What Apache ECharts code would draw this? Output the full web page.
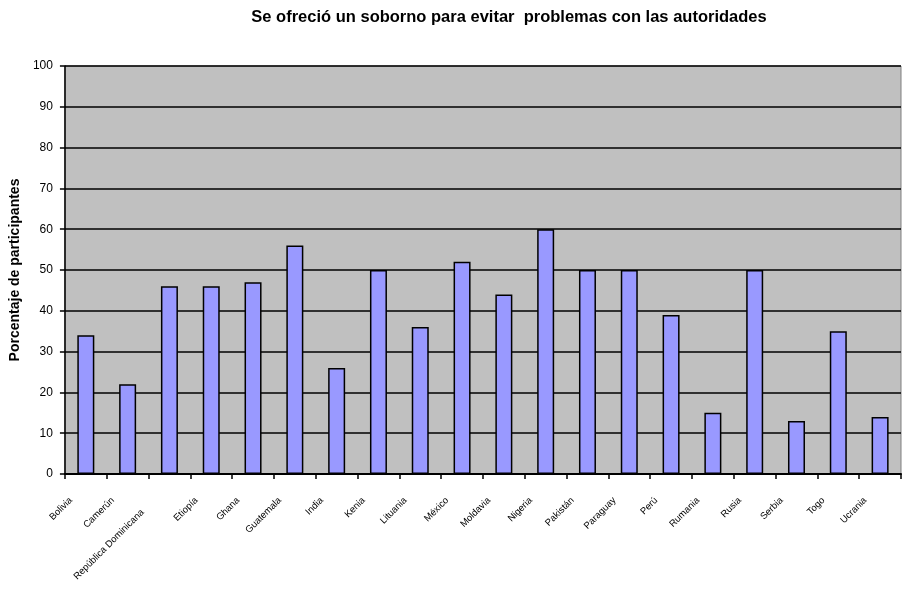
<!DOCTYPE html>
<html>
<head>
<meta charset="utf-8">
<script src="https://cdn.jsdelivr.net/npm/echarts@6/dist/echarts.min.js"></script>
<style>html,body{margin:0;padding:0;background:#fff}#c{width:902px;height:598px}</style>
</head>
<body>
<div id="c"></div>
<script>
const categories = ["Bolivia","Camerún","República Dominicana","Etiopía","Ghana","Guatemala","India","Kenia","Lituania","México","Moldavia","Nigeria","Pakistán","Paraguay","Perú","Rumania","Rusia","Serbia","Togo","Ucrania"];
const values = [34,22,46,46,47,56,26,50,36,52,44,60,50,50,39,15,50,13,35,14];
const yTicks = [0,10,20,30,40,50,60,70,80,90,100];

const FONT = 'Liberation Sans, Arial, sans-serif';
const chart = echarts.init(document.getElementById('c'), null, {renderer:'canvas'});
chart.setOption({
  animation:false,
  backgroundColor:'#ffffff',
  title:{
    text:'Se ofreció un soborno para evitar  problemas con las autoridades',
    left:504, top:4, textAlign:'center',
    textStyle:{fontFamily:FONT,fontSize:16.5,fontWeight:'bold',color:'#000'}
  },
  grid:{left:64,right:1,top:66,bottom:124,show:true,backgroundColor:'#c0c0c0',borderColor:'#808080',borderWidth:1},
  xAxis:{
    type:'category',data:categories,boundaryGap:true,
    axisLine:{lineStyle:{color:'#000',width:2}},
    axisTick:{show:true,alignWithLabel:false,length:5,lineStyle:{color:'#000',width:1.5}},
    axisLabel:{rotate:45,interval:0,margin:10,fontFamily:FONT,fontSize:9.5,color:'#000',
      formatter:v=>'{' + (v==='República Dominicana'?'l':'n') + '|' + v + '}',
      rich:{
        n:{fontFamily:FONT,fontSize:9.5,color:'#000',padding:[0,21,0,0]},
        l:{fontFamily:FONT,fontSize:9.5,color:'#000',padding:[0,38,0,0]}
      }
    }
  },
  yAxis:{
    type:'value',min:0,max:100,interval:10,
    name:'Porcentaje de participantes',nameLocation:'middle',nameGap:40,nameRotate:90,
    nameTextStyle:{fontFamily:FONT,fontSize:14,fontWeight:'bold',color:'#000'},
    axisLine:{show:true,lineStyle:{color:'#000',width:1.5}},
    axisTick:{show:true,length:5,lineStyle:{color:'#000',width:1.5}},
    axisLabel:{margin:12,fontFamily:FONT,fontSize:12,color:'#000',
      formatter:v=>yTicks.includes(v)?String(v):''},
    splitLine:{show:true,lineStyle:{color:'#000',width:1.5}}
  },
  series:[{
    type:'bar',data:values,barWidth:17,
    itemStyle:{color:'#9999ff',borderColor:'#000',borderWidth:1.5}
  }]
});
</script>
</body>
</html>
